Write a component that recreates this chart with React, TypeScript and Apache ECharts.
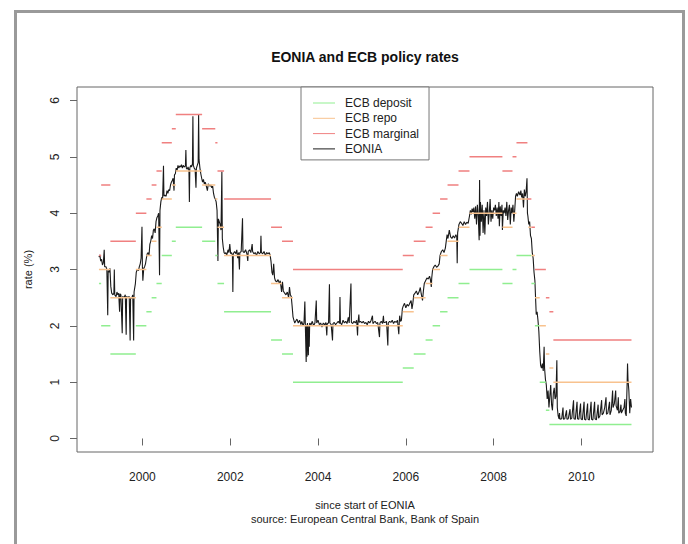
import React, { useEffect, useRef } from "react";
import * as echarts from "echarts";

// ECB policy rate change dates (decimal years) and rates in force from each date
const rateDates = [1999.0, 1999.01, 1999.06, 1999.27, 1999.85, 2000.09, 2000.21, 2000.32, 2000.44, 2000.67, 2000.76, 2001.36, 2001.66, 2001.71, 2001.86, 2002.93, 2003.18, 2003.43, 2005.93, 2006.18, 2006.45, 2006.61, 2006.78, 2006.95, 2007.2, 2007.45, 2008.2, 2008.43, 2008.52, 2008.77, 2008.79, 2008.86, 2008.94, 2009.05, 2009.19, 2009.27, 2009.36];
const rateEnd = 2011.14;
const depositRates = [2.0, 2.75, 2.0, 1.5, 2.0, 2.25, 2.5, 2.75, 3.25, 3.5, 3.75, 3.5, 3.25, 2.75, 2.25, 1.75, 1.5, 1.0, 1.25, 1.5, 1.75, 2.0, 2.25, 2.5, 2.75, 3.0, 2.75, 3.0, 3.25, 3.25, 3.25, 2.75, 2.0, 1.0, 0.5, 0.25, 0.25];
const repoRates = [3.0, 3.0, 3.0, 2.5, 3.0, 3.25, 3.5, 3.75, 4.25, 4.5, 4.75, 4.5, 4.25, 3.75, 3.25, 2.75, 2.5, 2.0, 2.25, 2.5, 2.75, 3.0, 3.25, 3.5, 3.75, 4.0, 3.75, 4.0, 4.25, 4.25, 3.75, 3.25, 2.5, 2.0, 1.5, 1.25, 1.0];
const marginalRates = [4.5, 3.25, 4.5, 3.5, 4.0, 4.25, 4.5, 4.75, 5.25, 5.5, 5.75, 5.5, 5.25, 4.75, 4.25, 3.75, 3.5, 3.0, 3.25, 3.5, 3.75, 4.0, 4.25, 4.5, 4.75, 5.0, 4.75, 5.0, 5.25, 4.25, 4.25, 3.75, 3.0, 3.0, 2.5, 2.25, 1.75];

// EONIA readings [decimal year, rate %]
const eonia1999: [number, number][] = [[1999.01, 3.22], [1999.03, 3.26], [1999.05, 3.15], [1999.07, 3.18], [1999.09, 3.08], [1999.11, 3.12], [1999.13, 3.35], [1999.14, 3.05], [1999.17, 3.05], [1999.19, 3.0], [1999.21, 2.19], [1999.22, 2.98], [1999.24, 2.95], [1999.26, 3.02], [1999.28, 2.7], [1999.3, 2.58], [1999.33, 2.55], [1999.35, 2.58], [1999.36, 3.0], [1999.37, 2.55], [1999.4, 2.52], [1999.42, 2.6], [1999.44, 2.55], [1999.46, 2.58], [1999.48, 2.25], [1999.49, 2.57], [1999.51, 2.55], [1999.54, 1.87], [1999.55, 2.52], [1999.58, 2.5], [1999.61, 2.55], [1999.63, 1.84], [1999.64, 2.52], [1999.67, 2.5], [1999.7, 2.52], [1999.72, 1.74], [1999.73, 2.48], [1999.76, 2.5], [1999.78, 2.55], [1999.8, 1.74], [1999.81, 2.6], [1999.84, 2.75], [1999.86, 2.95], [1999.88, 3.0], [1999.91, 2.98], [1999.93, 3.05], [1999.95, 3.1], [1999.97, 3.2], [1999.99, 3.76]];
const eonia2000: [number, number][] = [[2000.0, 3.05], [2000.01, 2.8], [2000.03, 3.02], [2000.05, 3.05], [2000.07, 3.1], [2000.09, 3.2], [2000.11, 3.28], [2000.13, 3.3], [2000.15, 3.25], [2000.17, 3.45], [2000.19, 3.5], [2000.21, 3.6], [2000.23, 3.55], [2000.25, 3.7], [2000.27, 3.72], [2000.29, 3.65], [2000.31, 3.85], [2000.33, 3.92], [2000.35, 3.95], [2000.37, 4.0], [2000.39, 2.9], [2000.4, 4.05], [2000.42, 4.2], [2000.44, 4.28], [2000.46, 4.25], [2000.48, 4.84], [2000.49, 4.3], [2000.51, 4.32], [2000.54, 4.3], [2000.56, 4.4], [2000.58, 4.35], [2000.6, 4.42], [2000.62, 4.4], [2000.64, 4.5], [2000.66, 4.55], [2000.68, 4.58], [2000.7, 4.62], [2000.72, 4.4], [2000.73, 4.68], [2000.75, 4.7], [2000.77, 4.8], [2000.79, 4.76], [2000.81, 4.85], [2000.83, 4.8], [2000.85, 4.84], [2000.87, 4.82], [2000.89, 4.86], [2000.91, 4.8], [2000.93, 4.85], [2000.95, 4.82], [2000.98, 4.84], [2000.99, 5.12]];
const eonia2001: [number, number][] = [[2001.0, 4.8], [2001.02, 4.78], [2001.04, 4.82], [2001.06, 4.75], [2001.07, 4.2], [2001.08, 4.8], [2001.1, 4.85], [2001.12, 4.82], [2001.14, 4.88], [2001.15, 5.72], [2001.16, 4.85], [2001.18, 4.8], [2001.2, 4.78], [2001.22, 4.45], [2001.23, 4.8], [2001.25, 4.85], [2001.27, 4.9], [2001.28, 5.75], [2001.29, 4.95], [2001.31, 4.8], [2001.33, 4.7], [2001.35, 4.62], [2001.37, 4.55], [2001.39, 4.6], [2001.41, 4.52], [2001.43, 4.55], [2001.45, 4.5], [2001.48, 4.4], [2001.5, 4.52], [2001.52, 4.5], [2001.54, 4.48], [2001.56, 4.5], [2001.58, 4.45], [2001.6, 4.48], [2001.62, 4.35], [2001.64, 4.28], [2001.66, 4.25], [2001.68, 4.2], [2001.7, 4.05], [2001.72, 3.15], [2001.73, 3.9], [2001.75, 3.85], [2001.77, 3.8], [2001.79, 3.7], [2001.81, 4.74], [2001.82, 3.55], [2001.84, 3.4], [2001.86, 3.3], [2001.88, 3.28], [2001.9, 3.3], [2001.92, 3.25], [2001.95, 3.35], [2001.97, 3.3], [2001.99, 3.45]];
const eonia2002: [number, number][] = [[2002.01, 3.28], [2002.03, 3.3], [2002.05, 3.25], [2002.06, 2.6], [2002.07, 3.28], [2002.1, 3.32], [2002.13, 3.28], [2002.15, 3.35], [2002.17, 3.2], [2002.19, 3.3], [2002.21, 3.0], [2002.22, 3.3], [2002.25, 3.32], [2002.28, 3.91], [2002.29, 3.32], [2002.32, 3.3], [2002.35, 3.35], [2002.38, 3.28], [2002.4, 3.15], [2002.41, 3.32], [2002.44, 3.35], [2002.47, 3.3], [2002.5, 3.45], [2002.51, 3.32], [2002.54, 3.28], [2002.57, 3.3], [2002.6, 3.25], [2002.63, 3.32], [2002.66, 3.28], [2002.69, 3.3], [2002.7, 3.6], [2002.71, 3.3], [2002.74, 3.28], [2002.77, 3.32], [2002.8, 3.25], [2002.83, 3.3], [2002.86, 3.28], [2002.89, 3.3], [2002.91, 3.25], [2002.93, 3.14], [2002.95, 2.95], [2002.97, 2.9], [2002.99, 3.1]];
const eonia2003: [number, number][] = [[2003.01, 2.85], [2003.03, 2.8], [2003.06, 2.78], [2003.09, 2.82], [2003.12, 2.75], [2003.14, 2.8], [2003.17, 2.6], [2003.19, 2.78], [2003.21, 2.62], [2003.24, 2.58], [2003.27, 2.55], [2003.3, 2.6], [2003.33, 2.5], [2003.35, 2.69], [2003.37, 2.55], [2003.39, 2.52], [2003.41, 2.35], [2003.43, 2.16], [2003.45, 2.1], [2003.47, 2.05], [2003.49, 2.08], [2003.52, 2.12], [2003.55, 2.05], [2003.58, 2.1], [2003.61, 2.02], [2003.63, 2.08], [2003.66, 2.0], [2003.68, 2.05], [2003.7, 2.43], [2003.71, 2.05], [2003.73, 1.36], [2003.74, 2.02], [2003.75, 1.45], [2003.76, 2.05], [2003.78, 1.48], [2003.79, 2.0], [2003.8, 1.63], [2003.81, 2.05], [2003.84, 2.02], [2003.87, 2.08], [2003.9, 2.0], [2003.93, 2.05], [2003.96, 2.45], [2003.97, 2.05]];
const eonia2004: [number, number][] = [[2004.0, 2.1], [2004.03, 2.02], [2004.06, 2.05], [2004.09, 1.98], [2004.12, 2.05], [2004.15, 2.02], [2004.18, 2.06], [2004.2, 1.83], [2004.21, 2.04], [2004.24, 2.05], [2004.26, 2.74], [2004.27, 2.05], [2004.3, 2.02], [2004.33, 1.74], [2004.34, 2.04], [2004.37, 2.06], [2004.4, 2.02], [2004.43, 2.05], [2004.46, 2.08], [2004.49, 2.04], [2004.5, 2.51], [2004.51, 2.05], [2004.54, 2.02], [2004.57, 2.1], [2004.6, 2.05], [2004.63, 2.08], [2004.66, 2.04], [2004.69, 2.15], [2004.71, 2.05], [2004.75, 2.75], [2004.76, 2.06], [2004.79, 2.04], [2004.82, 2.08], [2004.85, 2.05], [2004.88, 2.1], [2004.9, 1.83], [2004.91, 2.05], [2004.93, 2.2], [2004.94, 2.06], [2004.97, 2.08]];
const eonia2005: [number, number][] = [[2005.0, 2.05], [2005.03, 2.08], [2005.06, 2.04], [2005.09, 2.06], [2005.12, 2.02], [2005.15, 2.08], [2005.18, 2.05], [2005.21, 2.1], [2005.24, 2.18], [2005.25, 2.04], [2005.27, 2.06], [2005.3, 2.08], [2005.33, 2.04], [2005.36, 2.06], [2005.4, 1.8], [2005.41, 2.05], [2005.44, 2.08], [2005.47, 2.04], [2005.49, 2.18], [2005.5, 2.06], [2005.53, 2.06], [2005.56, 2.08], [2005.59, 1.65], [2005.6, 2.05], [2005.63, 2.08], [2005.66, 2.06], [2005.69, 2.1], [2005.72, 2.04], [2005.75, 2.08], [2005.78, 2.06], [2005.81, 2.1], [2005.84, 1.85], [2005.85, 2.06], [2005.86, 2.18], [2005.88, 2.08], [2005.9, 2.1], [2005.92, 2.3], [2005.94, 2.35], [2005.97, 2.4]];
const eonia2006: [number, number][] = [[2006.0, 2.32], [2006.03, 2.38], [2006.06, 2.35], [2006.09, 2.4], [2006.12, 2.45], [2006.14, 2.3], [2006.16, 2.4], [2006.18, 2.55], [2006.21, 2.58], [2006.24, 2.62], [2006.27, 2.55], [2006.3, 2.6], [2006.33, 2.68], [2006.35, 2.57], [2006.38, 2.45], [2006.4, 2.62], [2006.42, 2.75], [2006.45, 2.8], [2006.48, 2.85], [2006.51, 2.83], [2006.54, 2.88], [2006.56, 2.82], [2006.58, 2.69], [2006.59, 2.85], [2006.61, 3.0], [2006.64, 3.05], [2006.67, 3.08], [2006.7, 3.04], [2006.73, 3.06], [2006.76, 3.1], [2006.78, 3.25], [2006.81, 3.32], [2006.84, 3.35], [2006.87, 3.3], [2006.9, 3.38], [2006.92, 3.5], [2006.94, 3.62], [2006.96, 3.55], [2006.99, 3.7]];
const eonia2007: [number, number][] = [[2007.02, 3.58], [2007.05, 3.55], [2007.08, 3.6], [2007.11, 3.56], [2007.14, 3.62], [2007.16, 3.58], [2007.17, 3.11], [2007.18, 3.65], [2007.21, 3.8], [2007.24, 3.85], [2007.27, 3.82], [2007.3, 3.78], [2007.33, 3.85], [2007.36, 3.8], [2007.39, 3.84], [2007.42, 3.82], [2007.45, 3.95], [2007.47, 4.05], [2007.49, 3.98], [2007.51, 4.08], [2007.53, 4.02], [2007.55, 4.1], [2007.57, 3.9], [2007.59, 4.12], [2007.61, 3.8], [2007.63, 4.15], [2007.65, 3.95], [2007.67, 3.52], [2007.68, 4.59], [2007.69, 3.6], [2007.7, 4.2], [2007.72, 3.85], [2007.74, 4.15], [2007.76, 3.65], [2007.78, 4.05], [2007.8, 3.62], [2007.82, 4.1], [2007.84, 3.95], [2007.86, 4.2], [2007.88, 3.8], [2007.9, 4.0], [2007.92, 4.25], [2007.94, 3.85], [2007.96, 4.05], [2007.98, 3.9]];
const eonia2008: [number, number][] = [[2008.0, 4.1], [2008.02, 4.05], [2008.04, 4.15], [2008.06, 3.95], [2008.08, 4.1], [2008.1, 3.9], [2008.12, 4.2], [2008.13, 3.77], [2008.15, 4.12], [2008.17, 3.95], [2008.19, 4.15], [2008.2, 3.7], [2008.22, 4.05], [2008.24, 4.0], [2008.26, 4.1], [2008.28, 3.95], [2008.3, 4.2], [2008.32, 3.88], [2008.34, 4.05], [2008.36, 4.15], [2008.38, 3.8], [2008.4, 4.1], [2008.42, 4.0], [2008.44, 4.15], [2008.46, 3.85], [2008.48, 4.05], [2008.5, 4.3], [2008.52, 4.35], [2008.54, 4.3], [2008.57, 4.38], [2008.6, 4.32], [2008.62, 4.4], [2008.64, 4.28], [2008.66, 4.35], [2008.68, 4.1], [2008.7, 4.42], [2008.72, 4.3], [2008.74, 4.38], [2008.76, 4.62], [2008.77, 4.0], [2008.78, 3.95], [2008.8, 3.8], [2008.82, 3.85], [2008.84, 3.6], [2008.86, 3.55], [2008.88, 3.3], [2008.9, 3.2], [2008.92, 2.95], [2008.94, 2.8], [2008.96, 2.4], [2008.97, 2.2], [2008.99, 2.25]];
const eonia2009: [number, number][] = [[2009.01, 2.1], [2009.03, 1.9], [2009.05, 1.55], [2009.07, 1.3], [2009.09, 1.25], [2009.11, 1.33], [2009.13, 1.2], [2009.15, 1.63], [2009.16, 1.25], [2009.18, 1.05], [2009.2, 0.95], [2009.22, 0.7], [2009.24, 0.85], [2009.26, 0.55], [2009.28, 0.75], [2009.3, 0.95], [2009.32, 0.6], [2009.34, 0.5], [2009.36, 0.8], [2009.38, 0.9], [2009.4, 0.7], [2009.42, 0.75], [2009.44, 1.39], [2009.45, 0.55], [2009.47, 0.4], [2009.49, 0.35], [2009.5, 0.45], [2009.51, 0.34], [2009.55, 0.35], [2009.58, 0.55], [2009.59, 0.34], [2009.62, 0.35], [2009.66, 0.5], [2009.67, 0.34], [2009.7, 0.35], [2009.74, 0.52], [2009.75, 0.34], [2009.78, 0.36], [2009.82, 0.68], [2009.83, 0.35], [2009.86, 0.34], [2009.9, 0.65], [2009.91, 0.35], [2009.94, 0.34], [2009.98, 0.62], [2009.99, 0.35]];
const eonia2010: [number, number][] = [[2010.02, 0.33], [2010.06, 0.65], [2010.07, 0.34], [2010.1, 0.33], [2010.14, 0.62], [2010.15, 0.34], [2010.18, 0.33], [2010.22, 0.65], [2010.23, 0.34], [2010.26, 0.33], [2010.3, 0.65], [2010.31, 0.35], [2010.34, 0.33], [2010.38, 0.6], [2010.39, 0.36], [2010.42, 0.4], [2010.46, 0.68], [2010.47, 0.42], [2010.5, 0.45], [2010.53, 0.55], [2010.56, 0.73], [2010.57, 0.43], [2010.6, 0.45], [2010.64, 0.65], [2010.65, 0.42], [2010.68, 0.5], [2010.71, 0.85], [2010.72, 0.55], [2010.75, 0.62], [2010.78, 0.85], [2010.79, 0.58], [2010.82, 0.5], [2010.84, 0.73], [2010.85, 0.45], [2010.88, 0.48], [2010.9, 0.6], [2010.91, 0.45], [2010.94, 0.5], [2010.97, 0.55], [2010.99, 0.7]];
const eonia2011: [number, number][] = [[2011.0, 0.45], [2011.02, 0.4], [2011.04, 0.95], [2011.05, 1.33], [2011.06, 1.05], [2011.08, 0.85], [2011.1, 0.45], [2011.12, 0.7], [2011.14, 0.55]];

const xTicks = [2000, 2002, 2004, 2006, 2008, 2010];
const yTicks = [0, 1, 2, 3, 4, 5, 6];

const FONT = "'Liberation Sans', Arial, Helvetica, sans-serif";
const LINE_ICON = "path://M0,0L22,0L22,1L0,1Z";

function segments(rates: number[]): (number | null)[][] {
  const out: (number | null)[][] = [];
  for (let i = 0; i < rateDates.length; i++) {
    const start = rateDates[i];
    const end = i + 1 < rateDates.length ? rateDates[i + 1] : rateEnd;
    out.push([start, rates[i]]);
    out.push([end, rates[i]]);
    out.push([end, null]);
  }
  return out;
}

export default function App() {
  const ref = useRef<HTMLDivElement>(null);
  useEffect(() => {
    if (!ref.current) return;
    const chart = echarts.init(ref.current, null, { renderer: "svg" });
    const eonia = [
      ...eonia1999, ...eonia2000, ...eonia2001, ...eonia2002, ...eonia2003, ...eonia2004,
      ...eonia2005, ...eonia2006, ...eonia2007, ...eonia2008, ...eonia2009, ...eonia2010, ...eonia2011,
    ];
    const lineSeries = (name: string, data: any[], color: string, z: number, width: number) => ({
      name,
      type: "line",
      data,
      symbol: "none",
      showSymbol: false,
      connectNulls: false,
      lineStyle: { color, width },
      itemStyle: { color },
      z,
      silent: true,
    });
    chart.setOption({
      animation: false,
      backgroundColor: "#ffffff",
      textStyle: { fontFamily: FONT },
      title: {
        text: "EONIA and ECB policy rates",
        left: 365,
        top: 50,
        textAlign: "center",
        padding: 0,
        textStyle: { fontSize: 14, fontWeight: "bold", color: "#111", fontFamily: FONT },
      },
      legend: {
        orient: "vertical",
        left: 301,
        top: 87,
        width: 127,
        padding: [10, 10, 5, 12],
        itemWidth: 22,
        itemHeight: 12,
        itemGap: 3.3,
        borderColor: "#777",
        borderWidth: 1,
        borderRadius: 0,
        backgroundColor: "#ffffff",
        selectedMode: false,
        icon: LINE_ICON,
        data: [
          { name: "ECB deposit", icon: LINE_ICON },
          { name: "ECB repo", icon: LINE_ICON },
          { name: "ECB marginal", icon: LINE_ICON },
          { name: "EONIA", icon: LINE_ICON },
        ],
        textStyle: { fontSize: 12, color: "#222", fontFamily: FONT, padding: [0, 0, 0, 5] },
      },
      grid: { left: 77, top: 87, width: 576, height: 365, show: true, borderColor: "#666", borderWidth: 1, backgroundColor: "transparent" },
      xAxis: {
        type: "value",
        min: 1998.51,
        max: 2011.63,
        name: "since start of EONIA\nsource: European Central Bank, Bank of Spain",
        nameLocation: "middle",
        nameGap: 46,
        nameTextStyle: { fontSize: 11, color: "#222", lineHeight: 14, fontFamily: FONT },
        axisLine: { show: false },
        splitLine: { show: false },
        axisTick: { show: true, length: 7, inside: false, customValues: xTicks, lineStyle: { color: "#666" } },
        axisLabel: { customValues: xTicks, margin: 19, fontSize: 12, color: "#222", fontFamily: FONT, formatter: (v: number) => String(Math.round(v)) },
      },
      yAxis: {
        type: "value",
        min: -0.24,
        max: 6.24,
        name: "rate (%)",
        nameLocation: "middle",
        nameRotate: 90,
        nameGap: 44,
        nameTextStyle: { fontSize: 11, color: "#222", fontFamily: FONT },
        axisLine: { show: false },
        splitLine: { show: false },
        axisTick: { show: true, length: 7, inside: false, customValues: yTicks, lineStyle: { color: "#666" } },
        axisLabel: { customValues: yTicks, rotate: 90, margin: 16, fontSize: 12, color: "#222", fontFamily: FONT, formatter: (v: number) => String(Math.round(v)) },
      },
      series: [
        lineSeries("EONIA", eonia, "#1a1a1a", 2, 1.1),
        lineSeries("ECB deposit", segments(depositRates), "#90EE90", 3, 1.5),
        lineSeries("ECB repo", segments(repoRates), "#F8C28E", 3, 1.5),
        lineSeries("ECB marginal", segments(marginalRates), "#F08080", 3, 1.5),
      ],
      graphic: [
        {
          type: "rect",
          shape: { x: 15.5, y: 11.5, width: 668, height: 600 },
          style: { fill: "none", stroke: "#9a9a9a", lineWidth: 3 },
          silent: true,
          z: 100,
        },
      ],
    });
    return () => chart.dispose();
  }, []);
  return <div ref={ref} style={{ position: "fixed", left: 0, top: 0, width: 688, height: 544 }} />;
}
